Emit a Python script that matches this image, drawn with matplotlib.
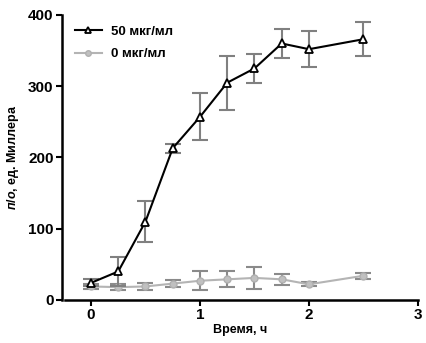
import numpy as np
import matplotlib.pyplot as plt

plt.rcParams['font.family'] = ['Liberation Sans', 'DejaVu Sans']
plt.rcParams['font.weight'] = 'bold'
plt.rcParams['mathtext.fontset'] = 'custom'
plt.rcParams['mathtext.it'] = 'Liberation Sans:italic:bold'
plt.rcParams['mathtext.rm'] = 'Liberation Sans:bold'

# time points, h
time = [0, 0.25, 0.5, 0.75, 1.0, 1.25, 1.5, 1.75, 2.0, 2.5]

# 50 мкг/мл
y50 = [24, 40, 110, 213, 257, 305, 325, 360, 352, 366]
err50 = [5, 20, 29, 6, 33, 38, 20, 20, 25, 24]

# 0 мкг/мл
y0 = [19, 18, 19, 23, 27, 29, 31, 29, 22, 34]
err0 = [4, 4, 5, 5, 13, 11, 16, 8, 3, 4]

xticks = [0, 1, 2, 3]
yticks = [0, 100, 200, 300, 400]

fig = plt.figure(figsize=(4.26, 3.43), dpi=100)
ax = fig.add_axes([0.1455, 0.1254, 0.8357, 0.8309])

# error bars (no legend entry)
ax.errorbar(time, y0, yerr=err0, fmt='none', ecolor='#8a8a8a',
            elinewidth=1.5, capsize=6, capthick=1.5, zorder=2)
ax.errorbar(time, y50, yerr=err50, fmt='none', ecolor='#808080',
            elinewidth=1.5, capsize=6, capthick=1.5, zorder=3)

ax.plot(time, y50, color='black', marker='^', markersize=6,
        markerfacecolor='white', markeredgecolor='black', markeredgewidth=1.3,
        linewidth=1.5, label='50 мкг/мл', zorder=4)
ax.plot(time, y0, color='#b4b4b4', marker='o', markersize=5,
        markerfacecolor='#c0c0c0', markeredgecolor='#b0b0b0',
        linewidth=1.5, label='0 мкг/мл', zorder=2.5)

ax.set_xlim(-0.266, 3)
ax.set_ylim(0, 400)
ax.set_xticks(xticks)
ax.set_yticks(yticks)

for side in ['top', 'right']:
    ax.spines[side].set_visible(False)
for side in ['left', 'bottom']:
    ax.spines[side].set_linewidth(1.8)
ax.spines['bottom'].set_bounds(-0.24, 3)
ax.tick_params(direction='out', length=4, width=1.5, labelsize=11, pad=2)
for lab in ax.get_xticklabels() + ax.get_yticklabels():
    lab.set_fontweight('bold')

ax.set_xlabel('Время, ч', fontsize=9, fontweight='bold', labelpad=1)
ax.set_ylabel(r'$\it{п/о}$, ед. Миллера', fontsize=9, fontweight='bold', labelpad=5)

leg = ax.legend(loc='upper left', frameon=False, fontsize=9.5, markerscale=0.8,
                handlelength=2.0, handletextpad=0.7, labelspacing=0.75,
                borderaxespad=0.2, bbox_to_anchor=(0.015, 0.99))
for t in leg.get_texts():
    t.set_fontweight('bold')

fig.savefig('out.png', dpi=100)
